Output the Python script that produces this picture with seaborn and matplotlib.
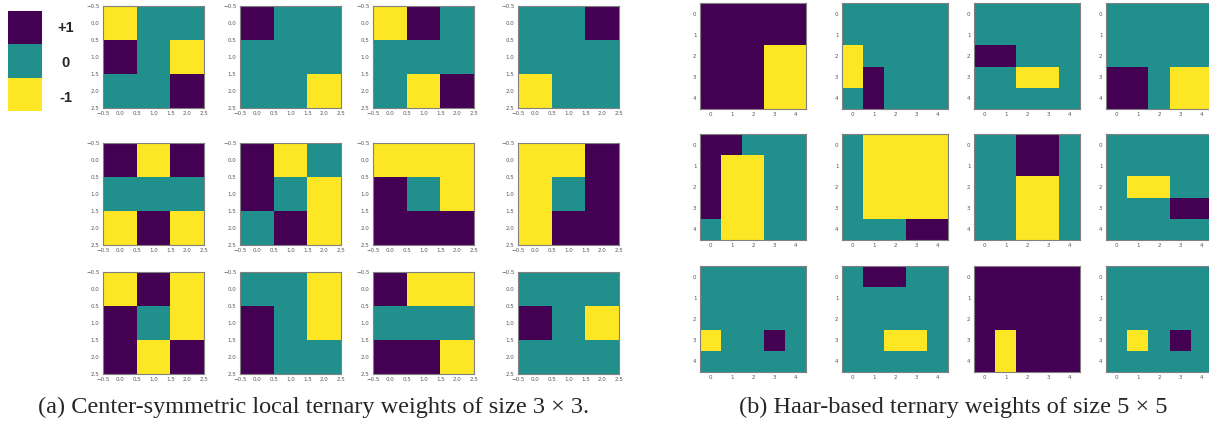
import numpy as np
import matplotlib
matplotlib.use('Agg')
from matplotlib import pyplot as plt
import seaborn as sns

# ternary weights: +1 purple, 0 teal, -1 yellow
# ------------------------------------------------------------------
cs_ltp_weights = [
    [[-1, 0, 0], [1, 0, -1], [0, 0, 1]],
    [[1, 0, 0], [0, 0, 0], [0, 0, -1]],
    [[-1, 1, 0], [0, 0, 0], [0, -1, 1]],
    [[0, 0, 1], [0, 0, 0], [-1, 0, 0]],
    [[1, -1, 1], [0, 0, 0], [-1, 1, -1]],
    [[1, -1, 0], [1, 0, -1], [0, 1, -1]],
    [[-1, -1, -1], [1, 0, -1], [1, 1, 1]],
    [[-1, -1, 1], [-1, 0, 1], [-1, 1, 1]],
    [[-1, 1, -1], [1, 0, -1], [1, -1, 1]],
    [[0, 0, -1], [1, 0, -1], [1, 0, 0]],
    [[1, -1, -1], [0, 0, 0], [1, 1, -1]],
    [[0, 0, 0], [1, 0, -1], [0, 0, 0]],
]

haar_weights = [
    [[1, 1, 1, 1, 1], [1, 1, 1, 1, 1], [1, 1, 1, -1, -1], [1, 1, 1, -1, -1], [1, 1, 1, -1, -1]],
    [[0, 0, 0, 0, 0], [0, 0, 0, 0, 0], [-1, 0, 0, 0, 0], [-1, 1, 0, 0, 0], [0, 1, 0, 0, 0]],
    [[0, 0, 0, 0, 0], [0, 0, 0, 0, 0], [1, 1, 0, 0, 0], [0, 0, -1, -1, 0], [0, 0, 0, 0, 0]],
    [[0, 0, 0, 0, 0], [0, 0, 0, 0, 0], [0, 0, 0, 0, 0], [1, 1, 0, -1, -1], [1, 1, 0, -1, -1]],
    [[1, 1, 0, 0, 0], [1, -1, -1, 0, 0], [1, -1, -1, 0, 0], [1, -1, -1, 0, 0], [0, -1, -1, 0, 0]],
    [[0, -1, -1, -1, -1], [0, -1, -1, -1, -1], [0, -1, -1, -1, -1], [0, -1, -1, -1, -1], [0, 0, 0, 1, 1]],
    [[0, 0, 1, 1, 0], [0, 0, 1, 1, 0], [0, 0, -1, -1, 0], [0, 0, -1, -1, 0], [0, 0, -1, -1, 0]],
    [[0, 0, 0, 0, 0], [0, 0, 0, 0, 0], [0, -1, -1, 0, 0], [0, 0, 0, 1, 1], [0, 0, 0, 0, 0]],
    [[0, 0, 0, 0, 0], [0, 0, 0, 0, 0], [0, 0, 0, 0, 0], [-1, 0, 0, 1, 0], [0, 0, 0, 0, 0]],
    [[0, 1, 1, 0, 0], [0, 0, 0, 0, 0], [0, 0, 0, 0, 0], [0, 0, -1, -1, 0], [0, 0, 0, 0, 0]],
    [[1, 1, 1, 1, 1], [1, 1, 1, 1, 1], [1, 1, 1, 1, 1], [1, -1, 1, 1, 1], [1, -1, 1, 1, 1]],
    [[0, 0, 0, 0, 0], [0, 0, 0, 0, 0], [0, 0, 0, 0, 0], [0, -1, 0, 1, 0], [0, 0, 0, 0, 0]],
]

legend_values = [[1], [0], [-1]]
legend_labels = ['+1', '0', '-1']

ticks_3x3 = [-0.5, 0.0, 0.5, 1.0, 1.5, 2.0, 2.5]
ticks_5x5 = [0, 1, 2, 3, 4]

caption_a = '(a) Center-symmetric local ternary weights of size 3 \u00d7 3.'
caption_b = '(b) Haar-based ternary weights of size 5 \u00d7 5'

# layout in pixels
# ------------------------------------------------------------------
W, H = 1209, 428
left_cols = [103, 240, 373, 518]
left_rows = [6, 143, 272]
left_size = (101, 102)
right_cols = [700, 842, 974, 1106]
right_rows = [3, 134, 266]
right_size = (106, 106)


def px_axes(fig, x, y, w, h):
    return fig.add_axes([x / W, 1 - (y + h) / H, w / W, h / H])


def draw_weight(ax, weights, ticks, small):
    sns.heatmap(np.array(weights), ax=ax, cmap='viridis_r', vmin=-1, vmax=1,
                cbar=False, xticklabels=False, yticklabels=False)
    n = len(weights)
    pos = [t + 0.5 for t in ticks]
    if small:
        labels = [f'{t:.1f}'.replace('-', '\u2212') for t in ticks]
    else:
        labels = [str(t) for t in ticks]
    ax.set_xticks(pos)
    ax.set_xticklabels(labels, rotation=0)
    ax.set_yticks(pos)
    ax.set_yticklabels(labels, rotation=0)
    ax.set_xlim(0, n)
    ax.set_ylim(n, 0)
    ax.tick_params(labelsize=4.0, length=1.5, width=0.4, pad=1, colors='#555555')
    for sp in ax.spines.values():
        sp.set_visible(True)
        sp.set_color('#808080')
        sp.set_linewidth(0.8)


sns.set_style('white')
plt.rcParams['font.family'] = ['DejaVu Sans']

fig = plt.figure(figsize=(W / 100, H / 100), dpi=100)

# left legend
leg_ax = px_axes(fig, 8, 11, 34, 100)
sns.heatmap(np.array(legend_values), ax=leg_ax, cmap='viridis_r', vmin=-1, vmax=1,
            cbar=False, xticklabels=False, yticklabels=False)
leg_ax.set_xticks([])
leg_ax.set_yticks([])
for i, lab in enumerate(legend_labels):
    fig.text(66 / W, 1 - (28 + i * 35) / H, lab, ha='center', va='center',
             fontsize=10.5, fontweight='bold', family='Liberation Sans')

# left panel: 3x3 weights
for k, w in enumerate(cs_ltp_weights):
    r, c = divmod(k, 4)
    ax = px_axes(fig, left_cols[c], left_rows[r], *left_size)
    draw_weight(ax, w, ticks_3x3, True)

# right panel: 5x5 weights
for k, w in enumerate(haar_weights):
    r, c = divmod(k, 4)
    ax = px_axes(fig, right_cols[c], right_rows[r], *right_size)
    draw_weight(ax, w, ticks_5x5, False)

fig.text(314 / W, 1 - 407 / H, caption_a, ha='center', va='center',
         fontsize=17.5, family='Liberation Serif')
fig.text(953 / W, 1 - 407 / H, caption_b, ha='center', va='center',
         fontsize=17.5, family='Liberation Serif')

fig.savefig('out.png', dpi=100)
